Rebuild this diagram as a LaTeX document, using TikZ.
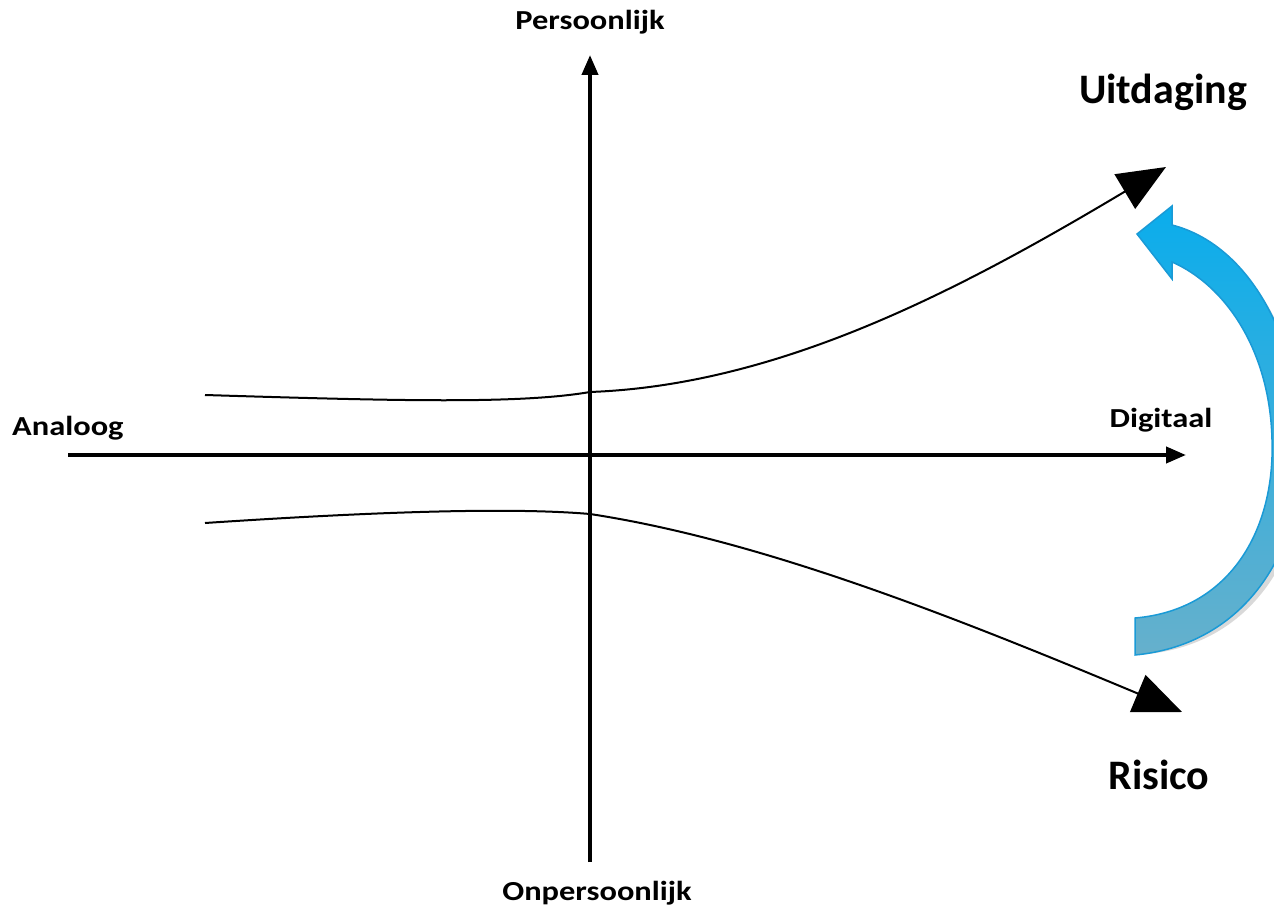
\documentclass[tikz,border=0pt]{standalone}
\usepackage{fontspec}
\usepackage{graphicx}
\setmainfont{Carlito}
\usetikzlibrary{arrows.meta,calc}
\definecolor{bluetop}{HTML}{0AADEC}
\definecolor{bluebot}{HTML}{66B0CC}
\definecolor{blueedge}{HTML}{1A9AD6}
\newcommand{\wide}[1]{\scalebox{1.18}[1]{#1}}
\begin{document}
\begin{tikzpicture}[x=1pt,y=-1pt,
  lab/.style={font=\bfseries\fontsize{27.5}{32}\selectfont, inner sep=0pt},
  biglab/.style={font=\bfseries\fontsize{42}{48}\selectfont, inner sep=0pt},
  axis/.style={line width=4pt, -{Triangle[length=20pt,width=16pt]}},
  trend/.style={line width=2pt, -{Triangle[length=48pt,width=40pt]}}]
\useasboundingbox (0,0) rectangle (1274,912);
\clip (0,0) rectangle (1274,912);
% axes
\coordinate (aL) at (68,455);
\coordinate (aR) at (1186,455);
\coordinate (aB) at (590,862);
\coordinate (aT) at (590,55);
\draw[axis] (aL) -- (aR);
\draw[axis] (aB) -- (aT);
% labels
\node[lab] (pers) at (590,22) {\wide{Persoonlijk}};
\node[lab] (onpers) at (597,893) {\wide{Onpersoonlijk}};
\node[lab, anchor=west] (ana) at (12,428) {\wide{Analoog}};
\node[lab] (dig) at (1161,420) {\wide{Digitaal}};
\node[biglab] (uit) at (1163,92) {Uitdaging};
\node[biglab] (ris) at (1159,775) {Risico};
% trend curves
\coordinate (u0) at (205,395);
\coordinate (um) at (590,392);
\coordinate (u1) at (1166,167);
\coordinate (l0) at (205,523);
\coordinate (lm) at (590,514);
\coordinate (l1) at (1182,712);
\draw[trend] (u0) .. controls (400,401) and (520,404) .. (um)
  .. controls (780,385) and (960,290) .. (u1);
\draw[trend] (l0) .. controls (400,510) and (520,508) .. (lm)
  .. controls (760,540) and (950,615) .. (l1);
% blue curved block arrow
\coordinate (b1) at (1135,655);
\coordinate (b2) at (1135,618);
\coordinate (b3) at (1172,262);
\coordinate (b4) at (1172,279);
\coordinate (b5) at (1137,234);
\coordinate (b6) at (1172,206);
\coordinate (b7) at (1172,225);
\fill[black, opacity=0.15, shift={(4,5)}]
  (b1) -- (b2) .. controls (1230,610) and (1275,530) .. (1272,440)
  .. controls (1270,350) and (1225,285) .. (b3) -- (b4) -- (b5) -- (b6) -- (b7)
  .. controls (1250,245) and (1300,340) .. (1303,450)
  .. controls (1300,560) and (1240,645) .. (b1) -- cycle;
\shade[top color=bluetop, bottom color=bluebot, draw=blueedge, line width=1.5pt, line join=miter]
  (b1) -- (b2) .. controls (1230,610) and (1275,530) .. (1272,440)
  .. controls (1270,350) and (1225,285) .. (b3) -- (b4) -- (b5) -- (b6) -- (b7)
  .. controls (1250,245) and (1300,340) .. (1303,450)
  .. controls (1300,560) and (1240,645) .. (b1) -- cycle;
\end{tikzpicture}
\end{document}
